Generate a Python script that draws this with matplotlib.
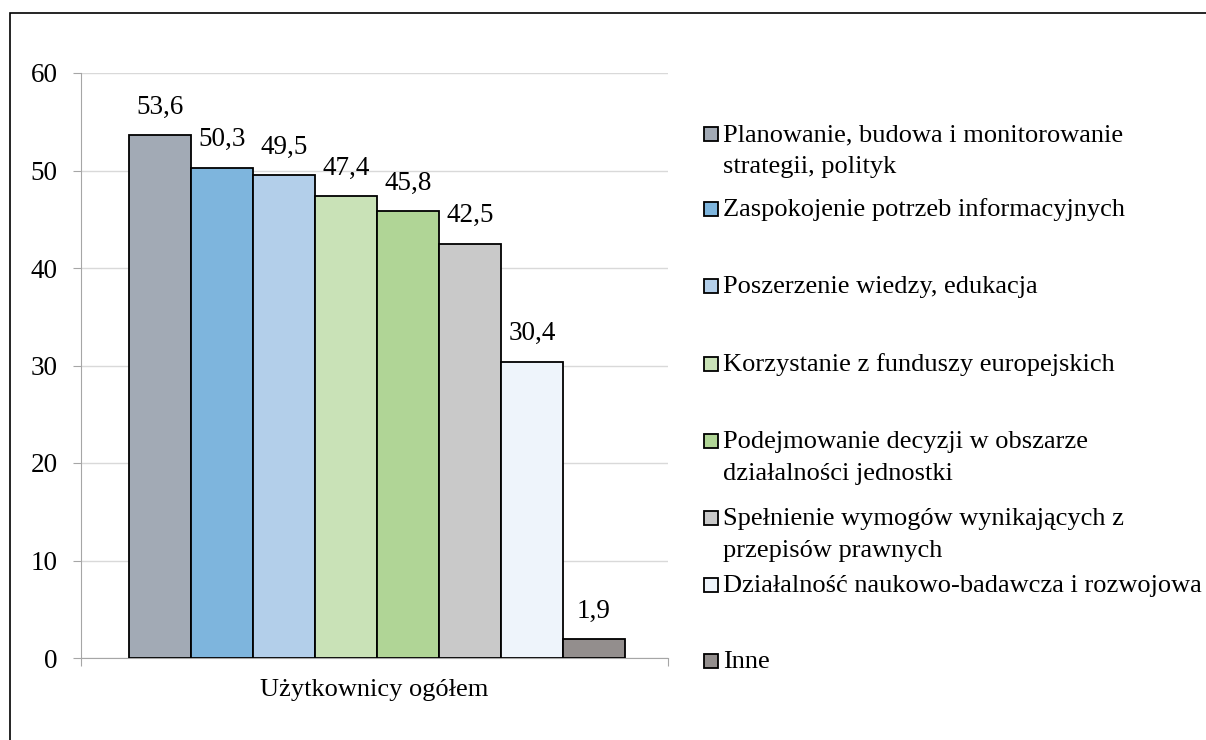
import numpy as np
import matplotlib
matplotlib.use('Agg')
import matplotlib.pyplot as plt
from matplotlib.patches import Rectangle

plt.rcParams['font.family'] = ['Liberation Serif', 'DejaVu Serif']

labels = ['Planowanie, budowa i monitorowanie\nstrategii, polityk',
          'Zaspokojenie potrzeb informacyjnych',
          'Poszerzenie wiedzy, edukacja',
          'Korzystanie z funduszy europejskich',
          'Podejmowanie decyzji w obszarze\ndziałalności jednostki',
          'Spełnienie wymogów wynikających z\nprzepisów prawnych',
          'Działalność naukowo-badawcza i rozwojowa',
          'Inne']
values = [53.6, 50.3, 49.5, 47.4, 45.8, 42.5, 30.4, 1.9]
colors = ['#A2AAB5', '#7EB5DD', '#B3CFEA', '#C9E2B7', '#B0D596', '#C9C9C9', '#EEF4FB', '#938E8D']
category = 'Użytkownicy ogółem'

FS = 19
NUM_FS = 19.5
W, H = 1206, 740
fig = plt.figure(figsize=(W / 100, H / 100), dpi=100)
# chart area frame (runs off the right and bottom edges, as in the source)
fig.patches.append(Rectangle((10 / W, -10 / H), 1220 / W, (H - 3) / H, transform=fig.transFigure,
                             fill=False, edgecolor='black', linewidth=1.2))

ax = fig.add_axes([81 / W, (H - 658) / H, (668 - 81) / W, (658 - 73) / H])

n = len(values)
group = 0.845
width = group / n
shift = 0.004
x = -group / 2 + width * (np.arange(n) + 0.5) + shift
ax.bar(x, values, width, color=colors, edgecolor='black', linewidth=1.3, zorder=3)
for xi, v in zip(x, values):
    ax.annotate(f'{v:.1f}'.replace('.', ','), (xi, v), xytext=(0, 11), textcoords='offset points',
                ha='center', va='bottom', fontsize=NUM_FS)

ax.set_xlim(-0.5, 0.5)
ax.set_ylim(0, 60)
ax.set_yticks(range(0, 61, 10))
ax.grid(axis='y', color='#D9D9D9', linewidth=1, zorder=0)
ax.set_xticks([-0.5, 0.5])
ax.set_xticklabels(['', ''])
ax.tick_params(axis='x', length=6, color='#A6A6A6')
ax.tick_params(axis='y', length=6, color='#A6A6A6', labelsize=NUM_FS, pad=11)
for s in ['top', 'right']:
    ax.spines[s].set_visible(False)
for s in ['left', 'bottom']:
    ax.spines[s].set_color('#A6A6A6')
ax.text(0.5, -0.036, category, transform=ax.transAxes, ha='center', va='top', fontsize=FS)

# legend, drawn by hand so the marker sits on the first text line
ys = [134, 209, 286, 364, 441, 518, 585, 661]
for lab, col, y in zip(labels, colors, ys):
    fig.patches.append(Rectangle((704 / W, (H - y - 7) / H), 14 / W, 14 / H, transform=fig.transFigure,
                                 facecolor=col, edgecolor='black', linewidth=1.3))
    for k, line in enumerate(lab.split('\n')):
        fig.text(723 / W, (H - y - 7 - 32 * k) / H, line, ha='left', va='baseline', fontsize=FS)

fig.savefig('out.png', dpi=100)
